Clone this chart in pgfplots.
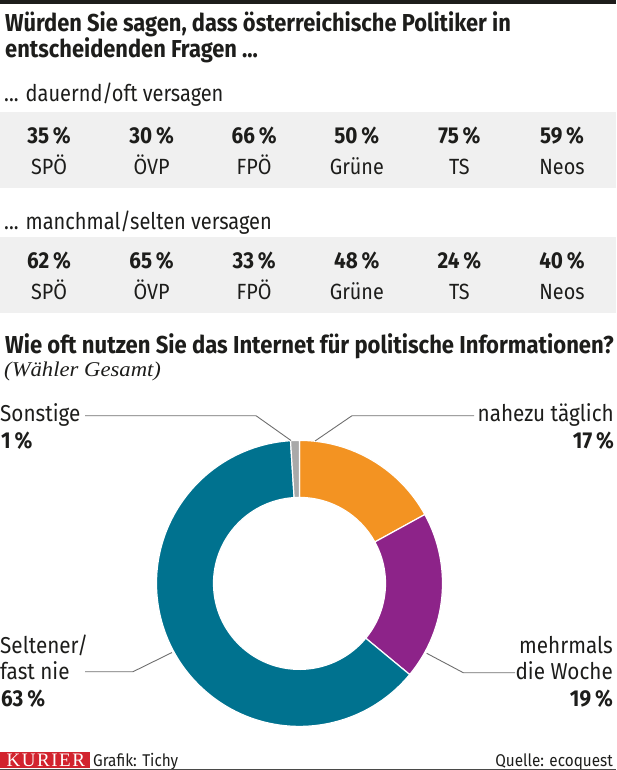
\documentclass[border=0pt]{standalone}
\usepackage{fontspec}
\setmainfont{Fira Sans}
\usepackage{pgfplots}
\usepackage{pgfplotstable}
\pgfplotsset{compat=1.18}
\pgfplotsset{/pgf/number format/assume math mode=true}

\newfontfamily\headfont{Fira Sans}[FakeStretch=0.893]
\newfontfamily\chartfont{Fira Sans}[FakeStretch=0.9]
\newfontfamily\bodyfont{Fira Sans}[FakeStretch=0.9]
\newfontfamily\rowfont{Fira Sans}[FakeStretch=0.87]
\newfontfamily\subfont{Liberation Serif}[FakeStretch=1.08]
\newfontfamily\kfont{Liberation Serif}[LetterSpace=8]

\definecolor{ink}{HTML}{1D1D1B}
\definecolor{band}{HTML}{F0F0F0}
\definecolor{cOrange}{HTML}{F39322}
\definecolor{cPurple}{HTML}{8D2389}
\definecolor{cTeal}{HTML}{00728F}
\definecolor{cGray}{HTML}{A9A9A9}
\definecolor{lead}{HTML}{6E6E6E}
\definecolor{kred}{HTML}{D2232E}

% dauernd/oft versagen
\pgfplotstableread{
idx ypos pct
0 45 35
1 45 30
2 45 66
3 45 50
4 45 75
5 45 59
}\rowoft

% manchmal/selten versagen
\pgfplotstableread{
idx ypos pct
0 45 62
1 45 65
2 45 33
3 45 48
4 45 24
5 45 40
}\rowselten

% Internetnutzung, im Uhrzeigersinn ab 12 Uhr
\pgfplotstableread{
share colour
17 cOrange
19 cPurple
63 cTeal
1 cGray
}\donut

\pgfplotsset{
  partyrow/.style={
    anchor=north west,
    x=102.6pt, y=1pt,
    xmin=-0.4776, xmax=5.5263, ymin=0, ymax=76,
    axis line style={draw=none},
    major tick length=0pt,
    axis background/.style={fill=band},
    xtick={0,...,5},
    xticklabels={SPÖ,ÖVP,FPÖ,Grüne,TS,Neos},
    xticklabel style={anchor=base, yshift=14pt, text=ink,
      font=\bodyfont\fontsize{22}{24}\selectfont},
    ytick=\empty,
    clip=false,
  },
  pctnodes/.style={
    draw=none, mark=none,
    point meta=explicit,
    nodes near coords={\pgfmathprintnumber{\pgfplotspointmeta}\,\%},
    every node near coord/.append style={anchor=base, inner sep=0pt, text=ink,
      font=\bodyfont\bfseries\fontsize{23}{25}\selectfont},
  },
}

\begin{document}
\begin{tikzpicture}
\useasboundingbox (0,0) rectangle (616pt,-770pt);

\begin{scope}[x=1pt, y=1pt]
  \fill[ink] (0,0) rectangle (616,-4.5);
  \node[anchor=base west, inner sep=0, text=ink,
    font=\headfont\bfseries\fontsize{24.5}{26}\selectfont] at (5,-32)
    {Würden Sie sagen, dass österreichische Politiker in};
  \node[anchor=base west, inner sep=0, text=ink,
    font=\headfont\bfseries\fontsize{24.5}{26}\selectfont] at (5,-57.5)
    {entscheidenden Fragen ...};
  \node[anchor=base west, inner sep=0, text=ink,
    font=\rowfont\fontsize{23}{25}\selectfont] at (4,-102)
    {... dauernd/oft versagen};
  \node[anchor=base west, inner sep=0, text=ink,
    font=\rowfont\fontsize{23}{25}\selectfont] at (4,-229)
    {... manchmal/selten versagen};
  \node[anchor=base west, inner sep=0, text=ink,
    font=\chartfont\bfseries\fontsize{24.5}{26}\selectfont] at (5,-353)
    {Wie oft nutzen Sie das Internet für politische Informationen?};
  \node[anchor=base west, inner sep=0, text=ink,
    font=\subfont\itshape\fontsize{21}{23}\selectfont] at (4,-376)
    {(Wähler Gesamt)};
\end{scope}

\begin{axis}[partyrow, at={(0pt,-112pt)}]
  \addplot[pctnodes] table[x=idx, y=ypos, meta=pct] {\rowoft};
\end{axis}

\begin{axis}[partyrow, at={(0pt,-237pt)}]
  \addplot[pctnodes] table[x=idx, y=ypos, meta=pct] {\rowselten};
\end{axis}

\begin{axis}[
  at={(299.5pt,-583.4pt)}, anchor=center,
  x=1pt, y=1pt, xmin=-145, xmax=145, ymin=-145, ymax=145,
  hide axis, clip=false,
]
  \def\astart{90}
  \pgfplotsforeachungrouped \i in {0,...,3}{%
    \pgfplotstablegetelem{\i}{share}\of\donut
    \let\sh\pgfplotsretval
    \pgfplotstablegetelem{\i}{colour}\of\donut
    \let\col\pgfplotsretval
    \pgfmathsetmacro\aend{\astart-3.6*\sh}
    \edef\temp{\noexpand\fill[\col, draw=white, line width=1.2pt]
      (axis cs:0,0) ++(\astart:143pt)
      arc[start angle=\astart, end angle=\aend, radius=143pt]
      -- ++(\aend:-57pt)
      arc[start angle=\aend, end angle=\astart, radius=86pt] -- cycle;}%
    \temp
    \let\astart\aend
  }
\end{axis}

\begin{scope}[x=1pt, y=1pt]
  % Hinweislinien
  \draw[lead, line width=0.9pt] (85,-415.7) -- (256,-415.7) -- (291,-440.5);
  \draw[lead, line width=0.9pt] (315,-441) -- (352,-415.7) -- (474,-415.7);
  \draw[lead, line width=0.9pt] (85,-671.7) -- (133,-671.7) -- (172,-652.5);
  \draw[lead, line width=0.9pt] (426.7,-653.3) -- (463.3,-672.7) -- (515,-672.7);

  \tikzset{lab/.style={inner sep=0, text=ink, font=\bodyfont\fontsize{23}{25}\selectfont},
           val/.style={inner sep=0, text=ink, font=\bodyfont\bfseries\fontsize{23}{25}\selectfont}}
  \node[lab, anchor=base west] at (0,-421.7) {Sonstige};
  \node[val, anchor=base west] at (1,-448) {1\,\%};
  \node[lab, anchor=base east] at (614,-421.7) {nahezu täglich};
  \node[val, anchor=base east] at (614,-448) {17\,\%};
  \node[lab, anchor=base west] at (0,-653.3) {Seltener/};
  \node[lab, anchor=base west] at (0,-679.3) {fast nie};
  \node[val, anchor=base west] at (1,-706) {63\,\%};
  \node[lab, anchor=base east] at (613,-653.3) {mehrmals};
  \node[lab, anchor=base east] at (613,-679.3) {die Woche};
  \node[val, anchor=base east] at (613,-706) {19\,\%};

  % Fußzeile
  \fill[kred] (0,-751.5) rectangle (90,-768);
  \node[anchor=base west, inner sep=0, text=white,
    font=\kfont\fontsize{19}{20}\selectfont] at (6.5,-766) {KURIER};
  \node[anchor=base west, inner sep=0, text=ink,
    font=\bodyfont\fontsize{17}{19}\selectfont] at (93,-766.5) {Grafik: Tichy};
  \node[anchor=base east, inner sep=0, text=ink,
    font=\bodyfont\fontsize{17}{19}\selectfont] at (613,-766.5) {Quelle: ecoquest};
  \draw[ink!80, line width=1.2pt] (0,-769.2) -- (616,-769.2);
\end{scope}
\end{tikzpicture}
\end{document}
